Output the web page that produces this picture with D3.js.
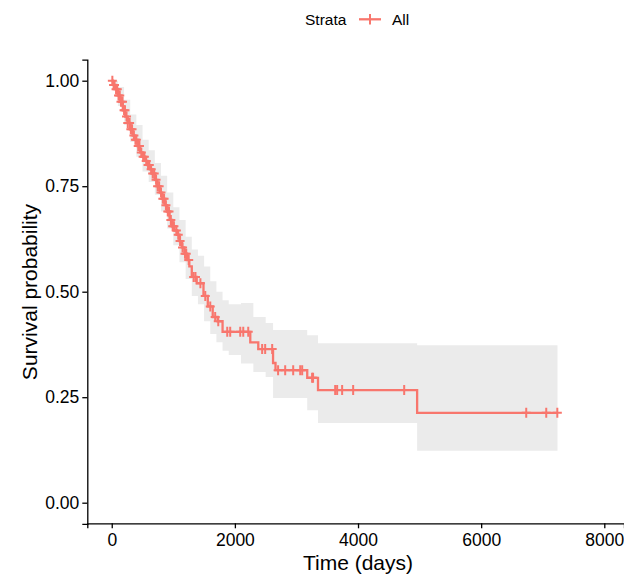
<!DOCTYPE html>
<html>
<head>
<meta charset="utf-8">
<script src="https://cdn.jsdelivr.net/npm/d3@7"></script>
<style>
  body { margin: 0; background: #fff; }
  svg { font-family: "Liberation Sans", Arial, sans-serif; }
</style>
</head>
<body>
<div id="chart"></div>
<script>
// Kaplan-Meier estimate (step after each time)
var kmTime = [0, 20, 60, 100, 140, 180, 220, 260, 300, 340, 380, 420, 460, 500, 540, 580,
  620, 660, 700, 740, 780, 820, 860, 900, 940, 980, 1020, 1060, 1100, 1140, 1180, 1220,
  1260, 1300, 1380, 1490, 1560, 1640, 1720, 1800, 2250, 2380, 2620, 2660, 3175, 3350, 4960, 7240];
var kmSurv = [1.0, 0.99, 0.98, 0.965, 0.95, 0.93, 0.915, 0.90, 0.885, 0.87, 0.86, 0.845, 0.83, 0.82, 0.81, 0.80,
  0.79, 0.78, 0.765, 0.75, 0.735, 0.72, 0.705, 0.69, 0.67, 0.655, 0.645, 0.635, 0.62, 0.605, 0.59, 0.575,
  0.56, 0.535, 0.52, 0.49, 0.465, 0.44, 0.43, 0.405, 0.38, 0.364, 0.331, 0.314, 0.296, 0.267, 0.213, 0.213];

// confidence band
var ciTime  = [0, 100, 200, 300, 400, 500, 600, 700, 800, 900, 1000, 1100, 1200, 1300, 1400, 1500,
  1600, 1700, 1800, 1900, 2100, 2300, 2500, 2620, 3175, 3350, 4960, 7240];
var ciLower = [0.99, 0.94, 0.895, 0.855, 0.82, 0.785, 0.76, 0.73, 0.69, 0.65, 0.61, 0.57, 0.53, 0.49, 0.47, 0.43,
  0.40, 0.38, 0.36, 0.35, 0.33, 0.31, 0.298, 0.248, 0.219, 0.189, 0.123, 0.123];
var ciUpper = [1.0, 0.985, 0.955, 0.92, 0.895, 0.86, 0.835, 0.805, 0.775, 0.735, 0.70, 0.67, 0.63, 0.60, 0.585, 0.56,
  0.525, 0.50, 0.48, 0.47, 0.473, 0.44, 0.426, 0.409, 0.397, 0.378, 0.373, 0.373];

// censored times
var censorTime = [10, 30, 45, 70, 90, 110, 130, 150, 175, 200, 215, 240, 260, 290, 310, 330, 360, 385,
  400, 430, 450, 480, 510, 530, 560, 590, 610, 640, 665, 690, 720, 745, 770, 800, 830, 850, 880, 910,
  930, 960, 990, 1010, 1050, 1080, 1110, 1150, 1190, 1210, 1250, 1330, 1360, 1440, 1519, 1600, 1680, 1730,
  1876, 1924, 2087, 2136, 2217, 2443, 2492, 2606, 2702, 2817, 2947, 3061, 3093, 3254, 3270,
  3629, 3661, 3742, 3921, 4750, 6732, 7057, 7237];

var xTicks = [0, 2000, 4000, 6000, 8000];
var yTicks = [0, 0.25, 0.5, 0.75, 1];
var lineColor = "#F8766D";

var width = 624, height = 576;
var svg = d3.select('#chart').append('svg')
    .attr('width', width).attr('height', height);

var x = d3.scaleLinear().domain([-397, 8320]).range([87.3, 624]);
var y = d3.scaleLinear().domain([-0.05, 1.05]).range([523.8, 59.6]);

var km = kmTime.map(function(t, i){ return {t: t, s: kmSurv[i]}; });
var ci = ciTime.map(function(t, i){ return {t: t, lo: ciLower[i], hi: ciUpper[i]}; });

var survAt = function(t){
    var i = d3.bisector(function(d){ return d.t; }).right(km, t) - 1;
    return km[Math.max(0, i)].s;
};

// band
svg.append('path').datum(ci)
    .attr('fill', '#EBEBEB')
    .attr('d', d3.area().curve(d3.curveStepAfter)
        .x(function(d){ return x(d.t); })
        .y0(function(d){ return y(d.lo); })
        .y1(function(d){ return y(d.hi); }));

// curve
svg.append('path').datum(km)
    .attr('fill', 'none')
    .attr('stroke', lineColor)
    .attr('stroke-width', 2.3)
    .attr('d', d3.line().curve(d3.curveStepAfter)
        .x(function(d){ return x(d.t); })
        .y(function(d){ return y(d.s); }));

// censor marks
var cens = svg.append('g').attr('stroke', lineColor).attr('stroke-width', 2);
cens.selectAll('path').data(censorTime).enter().append('path')
    .attr('d', function(t){
        var cx = x(t), cy = y(survAt(t));
        return 'M' + (cx - 4.5) + ',' + cy + 'H' + (cx + 4.5) + 'M' + cx + ',' + (cy - 5) + 'V' + (cy + 5);
    });

// axes
var xAxis = svg.append('g').attr('transform', 'translate(0,523.3)')
    .call(d3.axisBottom(x).tickValues(xTicks).tickFormat(d3.format('d'))
        .tickSizeOuter(0).tickSize(5).tickPadding(5));
var yAxis = svg.append('g').attr('transform', 'translate(87.3,0)')
    .call(d3.axisLeft(y).tickValues(yTicks).tickFormat(d3.format('.2f'))
        .tickSizeOuter(0).tickSize(5).tickPadding(3));

[xAxis, yAxis].forEach(function(a){
    a.selectAll('path, line').attr('stroke', '#000').attr('stroke-width', 1.3);
    a.selectAll('text').attr('fill', '#000').style('font-size', '17.5px')
        .style('font-family', '"Liberation Sans", Arial, sans-serif');
});

svg.append('text').attr('x', 358).attr('y', 570).attr('text-anchor', 'middle')
    .style('font-size', '21px').text('Time (days)');
svg.append('text').attr('transform', 'translate(37,292) rotate(-90)').attr('text-anchor', 'middle')
    .style('font-size', '21px').text('Survival probability');

// legend
var leg = svg.append('g');
leg.append('text').attr('x', 305).attr('y', 25).style('font-size', '15.5px').text('Strata');
leg.append('line').attr('x1', 359).attr('x2', 381).attr('y1', 19.3).attr('y2', 19.3)
    .attr('stroke', lineColor).attr('stroke-width', 2.3);
leg.append('line').attr('x1', 370).attr('x2', 370).attr('y1', 14).attr('y2', 24.6)
    .attr('stroke', lineColor).attr('stroke-width', 2);
leg.append('text').attr('x', 392).attr('y', 25).style('font-size', '15.5px').text('All');
</script>
</body>
</html>
